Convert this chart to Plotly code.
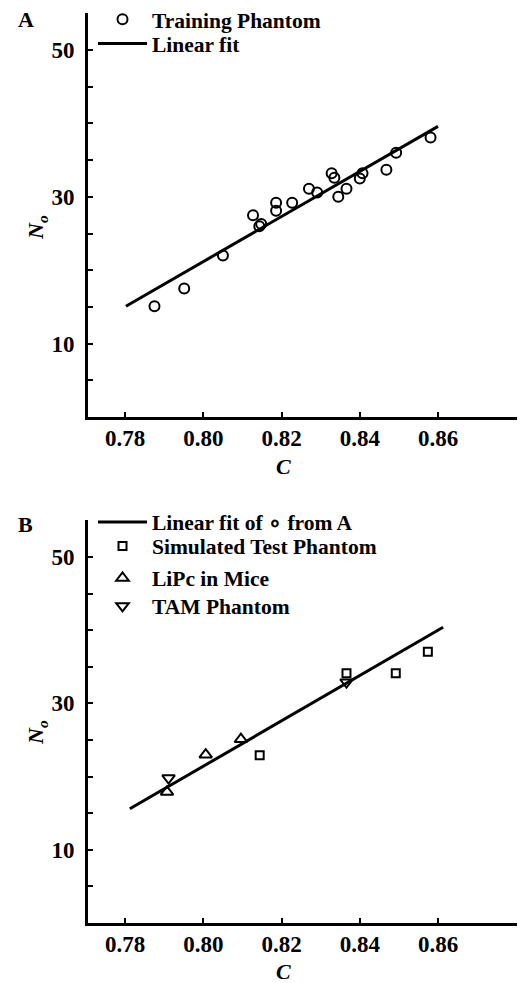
import plotly.graph_objects as go
from plotly.subplots import make_subplots

# Panel A data: training phantom
train_C = [0.7875, 0.7951, 0.8050, 0.8127, 0.8143, 0.8148, 0.8186, 0.8186, 0.8227,
           0.8270, 0.8291, 0.8328, 0.8335, 0.8345, 0.8366, 0.8400, 0.8407, 0.8468,
           0.8493, 0.8581]
train_N = [15.1, 17.5, 22.0, 27.5, 26.0, 26.3, 29.2, 28.1, 29.2,
           31.1, 30.6, 33.2, 32.6, 30.0, 31.1, 32.5, 33.2, 33.7,
           36.0, 38.1]
fitA_C = [0.7802, 0.8600]
fitA_N = [15.1, 39.6]

# Panel B data
fitB_C = [0.7812, 0.8613]
fitB_N = [15.6, 40.4]
sim_C = [0.8144, 0.8366, 0.8492, 0.8574]
sim_N = [22.9, 34.1, 34.1, 37.05]
lipc_C = [0.7907, 0.8006, 0.8096]
lipc_N = [17.9, 23.0, 25.1]
tam_C = [0.7911, 0.8366]
tam_N = [19.8, 32.9]

x_tickvals = [0.78, 0.80, 0.82, 0.84, 0.86]
x_ticktext = ["0.78", "0.80", "0.82", "0.84", "0.86"]
x_minorvals = [0.88]
y_tickvals = [10, 30, 50]
y_ticktext = ["10", "30", "50"]
y_minorvals = [0, 5, 15, 20, 25, 35, 40, 45, 55]

FONT = "Liberation Serif"
W, H = 520, 983
L, R, T, B = 88, 3, 13, 60
PW, PH = W - L - R, H - T - B

def px(x):
    return (x - L) / PW

def py(y):
    return (H - B - y) / PH

fig = make_subplots(rows=2, cols=1, vertical_spacing=0.0)

fig.add_trace(go.Scatter(x=train_C, y=train_N, mode="markers", name="Training Phantom",
                         marker=dict(symbol="circle-open", size=10, color="black",
                                     line=dict(width=2, color="black")),
                         legend="legend"), row=1, col=1)
fig.add_trace(go.Scatter(x=fitA_C, y=fitA_N, mode="lines", name="Linear fit",
                         line=dict(color="black", width=3), legend="legend2"), row=1, col=1)

fig.add_trace(go.Scatter(x=fitB_C, y=fitB_N, mode="lines", name="Linear fit of \u2218 from A",
                         line=dict(color="black", width=3), legend="legend3"), row=2, col=1)
fig.add_trace(go.Scatter(x=sim_C, y=sim_N, mode="markers", name="Simulated Test Phantom",
                         marker=dict(symbol="square-open", size=8, color="black",
                                     line=dict(width=2, color="black")),
                         legend="legend4"), row=2, col=1)
fig.add_trace(go.Scatter(x=lipc_C, y=lipc_N, mode="markers", name="LiPc in Mice",
                         marker=dict(symbol="triangle-up-open", size=11, color="black",
                                     line=dict(width=2, color="black")),
                         legend="legend5"), row=2, col=1)
fig.add_trace(go.Scatter(x=tam_C, y=tam_N, mode="markers", name="TAM Phantom",
                         marker=dict(symbol="triangle-down-open", size=11, color="black",
                                     line=dict(width=2, color="black")),
                         legend="legend6"), row=2, col=1)

axis_common = dict(showline=True, linecolor="black", linewidth=3, ticks="inside",
                   ticklen=5, tickwidth=2, tickcolor="black", showgrid=False,
                   zeroline=False, mirror=False,
                   tickfont=dict(family=FONT, size=23, color="black", weight="bold"))
minor_common = dict(ticks="inside", ticklen=5, tickwidth=2, tickcolor="black", showgrid=False)

domA = [(H - B - 417) / PH, 1.0]
domB = [0.0, (H - B - 520) / PH]

fig.update_xaxes(range=[0.7705, 0.8802], tickvals=x_tickvals, ticktext=x_ticktext,
                 minor=dict(tickvals=x_minorvals, **minor_common),
                 ticklabelstandoff=-2, **axis_common)
fig.update_yaxes(range=[0, 55.05], tickvals=y_tickvals, ticktext=y_ticktext,
                 minor=dict(tickvals=y_minorvals, **minor_common),
                 ticklabelstandoff=6, **axis_common)
fig.update_layout(yaxis=dict(domain=domA), yaxis2=dict(domain=domB))

legfont = dict(family=FONT, size=21.5, color="black", weight="bold")
leg_rows = {"legend": 19.3, "legend2": 43.5, "legend3": 522, "legend4": 546,
            "legend5": 578, "legend6": 606}
legends = {}
for k, yy in leg_rows.items():
    legends[k] = dict(x=px(93), y=py(yy), xanchor="left", yanchor="middle", font=legfont,
                      bgcolor="rgba(0,0,0,0)", borderwidth=0, itemwidth=49)

fig.update_layout(
    width=W, height=H,
    margin=dict(l=L, r=R, t=T, b=B, autoexpand=False),
    plot_bgcolor="white", paper_bgcolor="white",
    showlegend=True,
    **legends,
)

ann = [
    dict(text="<b>A</b>", x=px(26), y=py(20)),
    dict(text="<b>B</b>", x=px(25), y=py(524)),
    dict(text="<b><i>C</i></b>", x=px(283), y=py(466)),
    dict(text="<b><i>C</i></b>", x=px(283), y=py(971)),
    dict(text="<b><i>N<sub>o</sub></i></b>", x=px(37), y=py(228), textangle=-90),
    dict(text="<b><i>N<sub>o</sub></i></b>", x=px(37), y=py(733), textangle=-90),
]
for a in ann:
    fig.add_annotation(xref="paper", yref="paper", showarrow=False,
                       xanchor="center", yanchor="middle",
                       font=dict(family=FONT, size=22, color="black"), **a)

fig.write_html("out.html", config={"displayModeBar": False},
               post_script="document.body.style.margin='0';document.body.style.overflow='hidden';")
